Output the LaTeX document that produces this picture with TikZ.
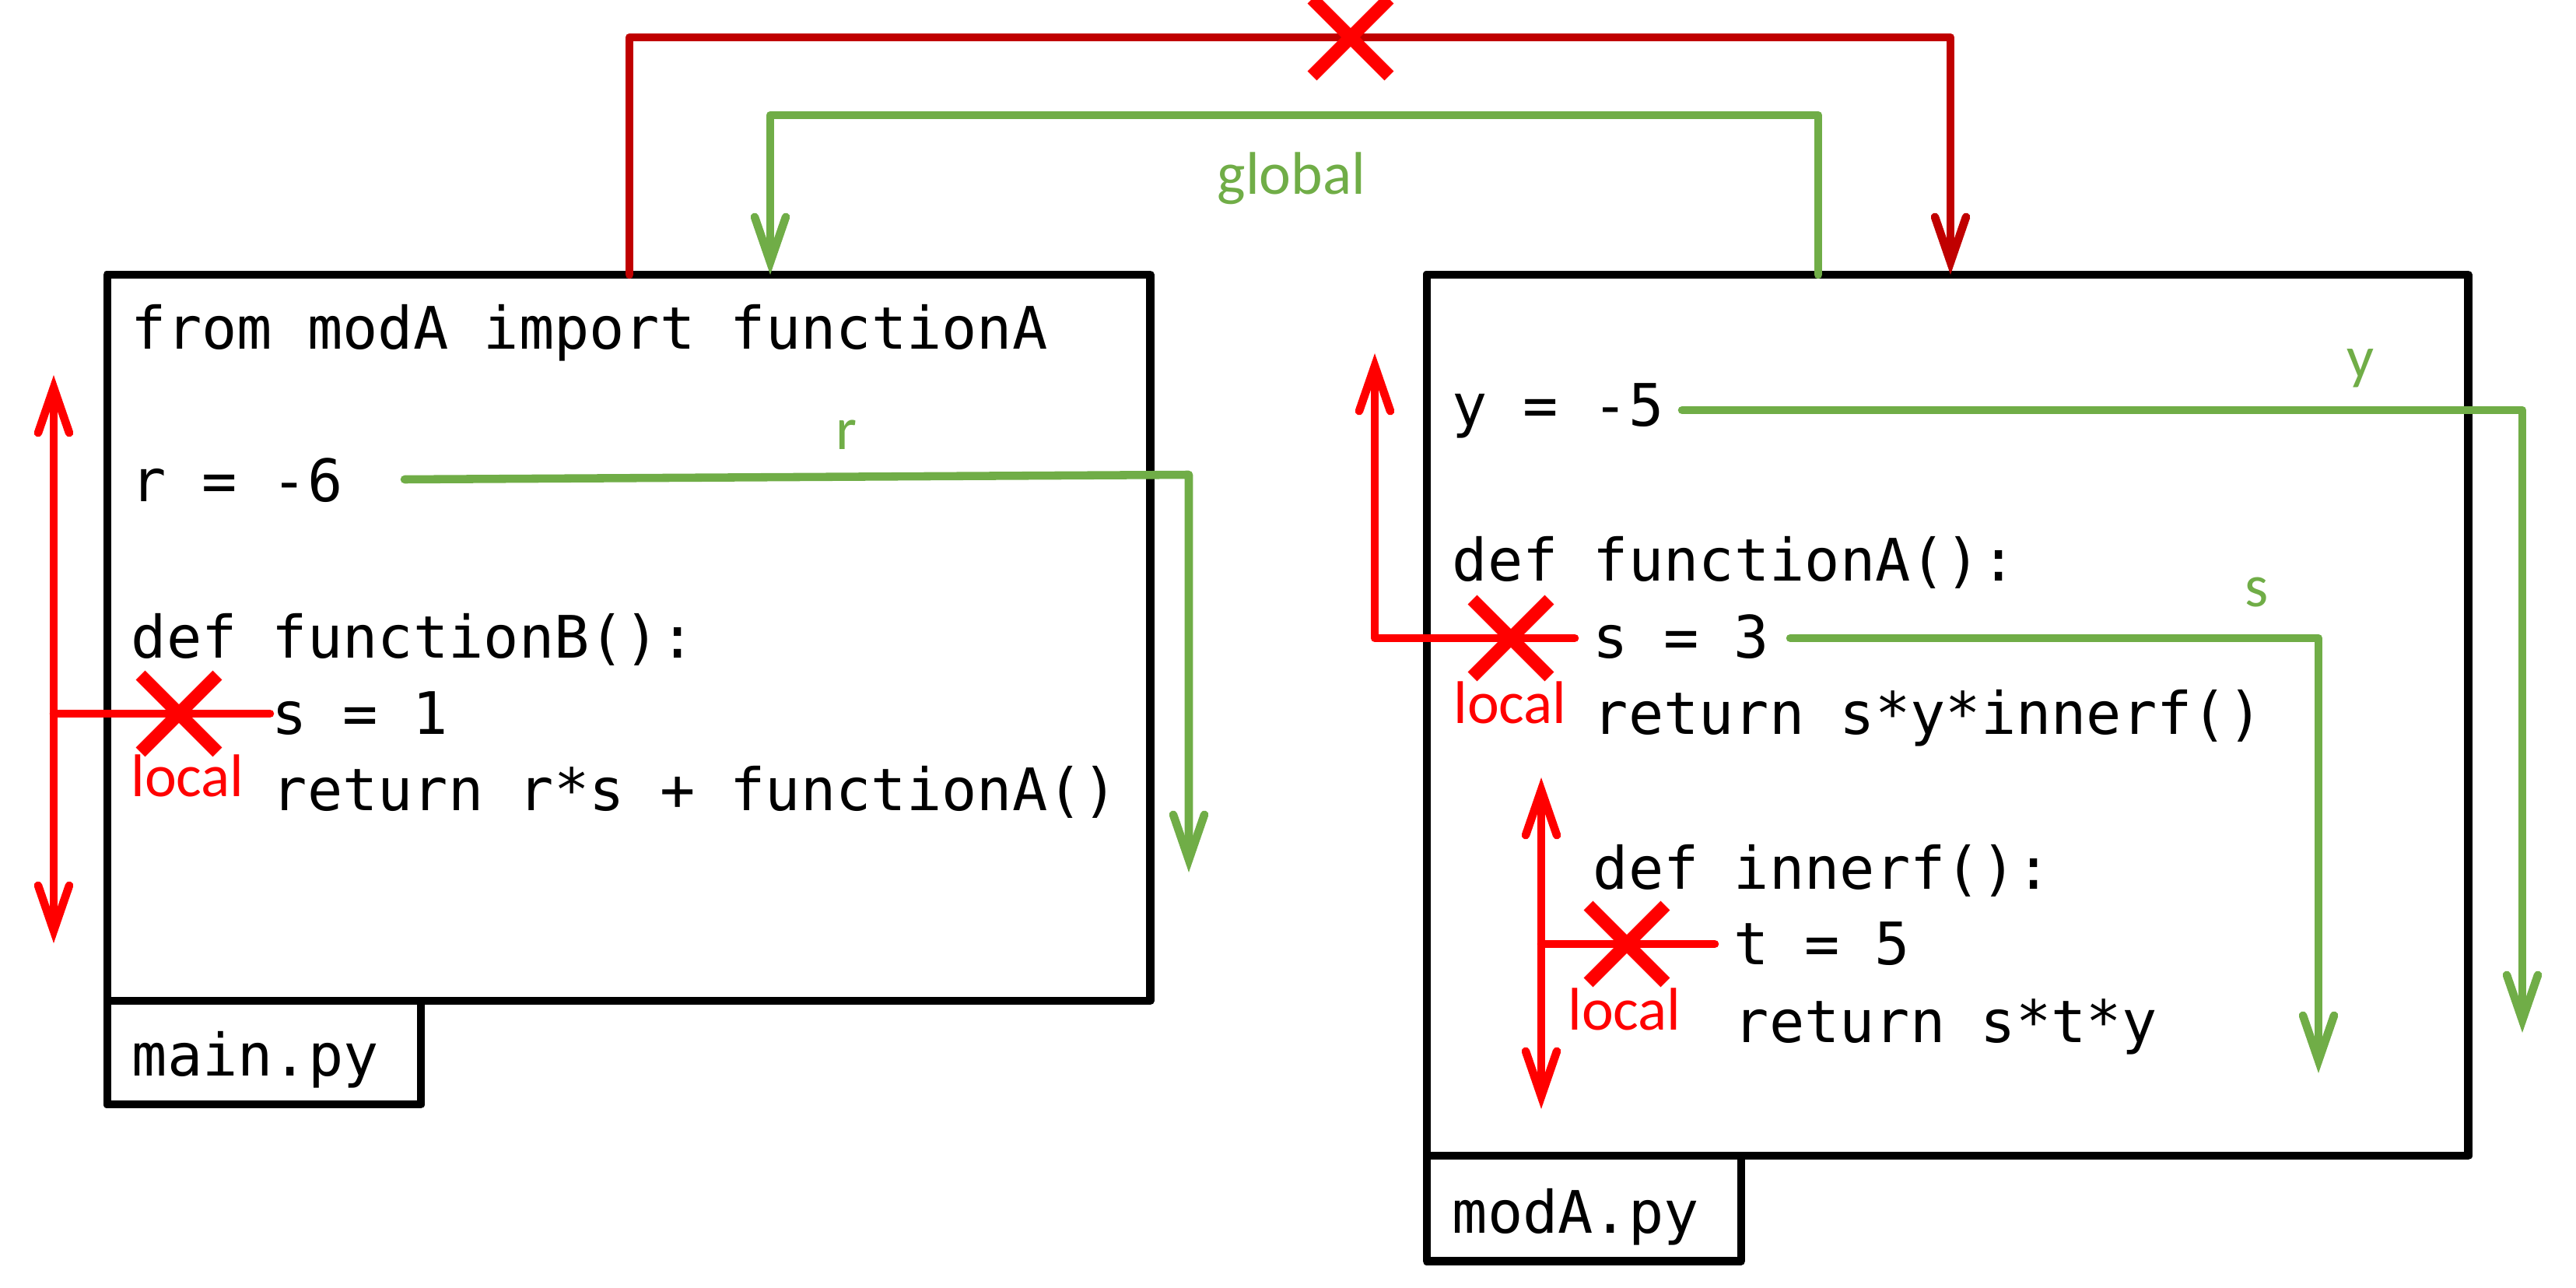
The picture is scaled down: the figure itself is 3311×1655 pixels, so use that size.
\documentclass[tikz,border=0pt]{standalone}
\usepackage{fontspec}
\setmonofont{DejaVu Sans Mono}
\newfontfamily\labelfont{Carlito}
\usepackage{tikz}
\usetikzlibrary{arrows.meta, positioning, shapes.misc}
\definecolor{flowgreen}{HTML}{70AD47}
\definecolor{localred}{HTML}{FF0000}
\definecolor{importred}{HTML}{C00000}

\begin{document}
\begin{tikzpicture}[
    x=0.01cm, y=-0.01cm,
    filebox/.style={rectangle, draw=black, line width=2.9pt, line join=round, inner sep=0pt, outer sep=0pt},
    code/.style={anchor=base west, inner sep=0pt, font=\ttfamily\fontsize{21.4pt}{26pt}\selectfont},
    tag/.style={inner sep=0pt, font=\labelfont\fontsize{22pt}{26pt}\selectfont},
    nope/.style={cross out, draw=localred, line width=4.8pt, minimum width=0.82cm, minimum height=0.82cm, inner sep=0pt},
    flow/.style={draw=flowgreen, line width=3pt, line cap=round, line join=round, -{Straight Barb[length=0.58cm, width=0.40cm, line cap=round]}},
    scopeline/.style={draw=localred, line width=3pt, line cap=round, line join=round},
    importline/.style={draw=importred, line width=3pt, line cap=round, line join=round, -{Straight Barb[length=0.58cm, width=0.40cm, line cap=round]}},
]
    \useasboundingbox (0,0) rectangle (3311,1655);

    % files
    \node[filebox, minimum width=13.40cm, minimum height=9.33cm] (mainbox) at (808,819.5) {};
    \node[filebox, minimum width=4.03cm, minimum height=1.33cm, below right=0pt and 0pt of mainbox.south west] (maintab) {};
    \node[filebox, minimum width=13.38cm, minimum height=11.32cm] (modbox) at (2503,919) {};
    \node[filebox, minimum width=4.04cm, minimum height=1.35cm, below right=0pt and 0pt of modbox.south west] (modtab) {};
    \node[code] (mainname) at (169,1382) {main.py};
    \node[code] (modname) at (1866,1584) {modA.py};

    % main.py code
    \node[code] (importA) at (168,449) {from modA import functionA};
    \node[code] (rdef) at (168,645) {r = -6};
    \node[code] (funcB) at (168,845) {def functionB():};
    \node[code] (sone) at (349,943) {s = 1};
    \node[code] (retB) at (349,1041) {return r*s + functionA()};

    % modA.py code
    \node[code] (ydef) at (1866,548) {y = -5};
    \node[code] (funcA) at (1866,746) {def functionA():};
    \node[code] (sthree) at (2047,845) {s = 3};
    \node[code] (retA) at (2047,943) {return s*y*innerf()};
    \node[code] (innerf) at (2047,1142) {def innerf():};
    \node[code] (tfive) at (2228,1239) {t = 5};
    \node[code] (retin) at (2228,1339) {return s*t*y};

    % import: blocked
    \coordinate (ifrom) at (809,353);
    \coordinate (ibend) at (2507,48);
    \coordinate (ito) at (2507,353);
    \draw[importline] (ifrom) |- (ibend) -- (ito);

    % global
    \coordinate (gfrom) at (2337,353);
    \coordinate (gbend) at (990,148);
    \coordinate (gto) at (990,353);
    \draw[flow] (gfrom) |- (gbend) -- (gto);
    \node[tag, text=flowgreen] (globaltag) at (1660,229) {global};

    % r, y, s
    \coordinate (rfrom) at (520,616);
    \coordinate (rbend) at (1528,610);
    \coordinate (rto) at (1528,1121);
    \draw[flow] (rfrom) -- (rbend) -- (rto);
    \node[tag, text=flowgreen] (rtag) at (1088,559) {r};

    \coordinate (yfrom) at (2162,527);
    \coordinate (yto) at (3242,1327);
    \draw[flow] (yfrom) -| (yto);
    \node[tag, text=flowgreen] (ytag) at (3034,473) {y};

    \coordinate (sfrom) at (2301,820);
    \coordinate (sto) at (2980,1379);
    \draw[flow] (sfrom) -| (sto);
    \node[tag, text=flowgreen] (stag) at (2901,761) {s};

    % local scopes
    \coordinate (mtop) at (69,482);
    \coordinate (mbot) at (69,1212);
    \coordinate (mjoin) at (69,917);
    \coordinate (mend) at (347,917);
    \draw[scopeline, {Straight Barb[length=0.58cm, width=0.40cm, line cap=round]}-{Straight Barb[length=0.58cm, width=0.40cm, line cap=round]}] (mtop) -- (mbot);
    \draw[scopeline] (mjoin) -- (mend);

    \coordinate (afrom) at (2024,820);
    \coordinate (ato) at (1767,454);
    \draw[scopeline, -{Straight Barb[length=0.58cm, width=0.40cm, line cap=round]}] (afrom) -| (ato);

    \coordinate (ntop) at (1981,999);
    \coordinate (nbot) at (1981,1425);
    \coordinate (njoin) at (1981,1213);
    \coordinate (nend) at (2204,1213);
    \draw[scopeline, {Straight Barb[length=0.58cm, width=0.40cm, line cap=round]}-{Straight Barb[length=0.58cm, width=0.40cm, line cap=round]}] (ntop) -- (nbot);
    \draw[scopeline] (njoin) -- (nend);

    \node[nope] (importx) at (1736,48) {};
    \node[nope] (mainx) at (230,917) {};
    \node[nope] (funcx) at (1942,820) {};
    \node[nope] (innerx) at (2091,1213) {};
    \node[tag, text=localred] (mainlocal) at (241,997) {local};
    \node[tag, text=localred] (funclocal) at (1941,903) {local};
    \node[tag, text=localred] (innerlocal) at (2088,1297) {local};
\end{tikzpicture}
\end{document}
